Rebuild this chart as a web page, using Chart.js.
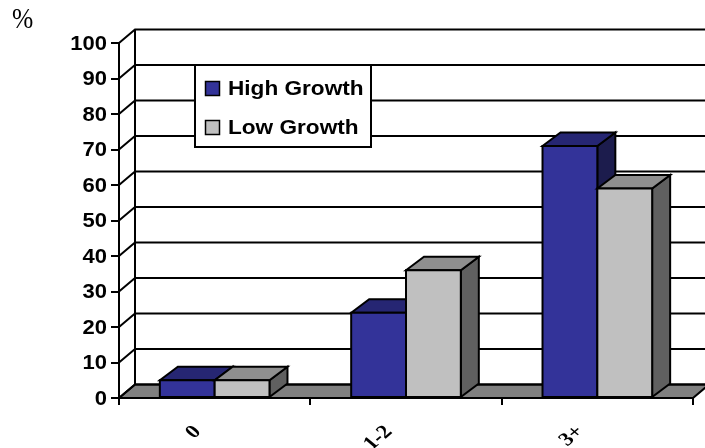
<!DOCTYPE html>
<html>
<head>
<meta charset="utf-8">
<script src="https://cdn.jsdelivr.net/npm/chart.js@4.4.0/dist/chart.umd.min.js"></script>
<style>
  html, body { margin: 0; padding: 0; background: #fff; }
  #wrap { position: relative; width: 705px; height: 448px; }
</style>
</head>
<body>
<div id="wrap"><canvas id="growthChart" width="705" height="448"></canvas></div>
<script>
// number of children groups and share of firms (%)
const categories = ['0', '1-2', '3+'];
const highGrowth = [5, 24, 71];
const lowGrowth = [5, 36, 59];
const seriesNames = ['High Growth', 'Low Growth'];

// depth offsets for the pseudo-3D wall/floor and for the bars
const WALL_DX = 16, BAR_DX = 18, DY = 13.5;

const shades = [
  { front: '#333399', top: '#262673', side: '#1c1c4d' },
  { front: '#c0c0c0', top: '#8f8f8f', side: '#606060' }
];

function poly(ctx, pts, fill) {
  ctx.beginPath();
  ctx.moveTo(pts[0][0], pts[0][1]);
  for (let i = 1; i < pts.length; i++) ctx.lineTo(pts[i][0], pts[i][1]);
  ctx.closePath();
  ctx.fillStyle = fill;
  ctx.fill();
  ctx.stroke();
}

// text drawn a little wider than the font's natural width
function wideText(ctx, txt, x, y, sx) {
  ctx.save();
  ctx.translate(x, y);
  ctx.scale(sx, 1);
  ctx.fillText(txt, 0, 0);
  ctx.restore();
}

const box3d = {
  id: 'box3d',
  beforeDatasetsDraw(chart) {
    const { ctx, chartArea: a, scales: { y } } = chart;
    ctx.save();
    ctx.strokeStyle = '#000';
    ctx.lineWidth = 2;
    // floor
    poly(ctx, [[a.left, a.bottom], [a.right, a.bottom], [a.right + WALL_DX, a.bottom - DY], [a.left + WALL_DX, a.bottom - DY]], '#808080');
    // back wall grid + side diagonals
    ctx.beginPath();
    y.ticks.forEach(t => {
      const py = y.getPixelForValue(t.value);
      ctx.moveTo(a.left, py);
      ctx.lineTo(a.left + WALL_DX, py - DY);
      ctx.lineTo(a.right + WALL_DX + 20, py - DY);
    });
    ctx.moveTo(a.left + WALL_DX, y.getPixelForValue(y.max) - DY);
    ctx.lineTo(a.left + WALL_DX, a.bottom - DY);
    ctx.stroke();
    ctx.restore();
  },
  afterDatasetsDraw(chart) {
    const { ctx } = chart;
    ctx.save();
    ctx.strokeStyle = '#000';
    ctx.lineWidth = 2;
    categories.forEach((c, i) => {
      chart.data.datasets.forEach((ds, d) => {
        const bar = chart.getDatasetMeta(d).data[i];
        const { x, y, base, width } = bar.getProps(['x', 'y', 'base', 'width'], true);
        const l = x - width / 2, r = x + width / 2;
        const col = shades[d];
        poly(ctx, [[r, y], [r + BAR_DX, y - DY], [r + BAR_DX, base - DY], [r, base]], col.side);
        poly(ctx, [[l, y], [l + BAR_DX, y - DY], [r + BAR_DX, y - DY], [r, y]], col.top);
        poly(ctx, [[l, y], [r, y], [r, base], [l, base]], col.front);
      });
    });
    ctx.restore();
  },
  afterDraw(chart) {
    const { ctx, scales: { x, y } } = chart;
    ctx.save();
    ctx.fillStyle = '#000';

    // value axis labels
    ctx.font = 'bold 20px "Liberation Sans", Arial, sans-serif';
    ctx.textAlign = 'right';
    ctx.textBaseline = 'middle';
    y.ticks.forEach(t => {
      wideText(ctx, String(t.value), 107, y.getPixelForValue(t.value) + 1, 1.1);
    });

    // rotated category labels
    ctx.font = 'bold 19px "Liberation Serif", "Times New Roman", serif';
    categories.forEach((c, i) => {
      const px = x.getPixelForValue(i);
      ctx.save();
      ctx.translate(px - 17, 429);
      ctx.scale(1.2, 1);
      ctx.rotate(-Math.PI / 4);
      ctx.fillText(c, 0, 0);
      ctx.restore();
    });

    // unit label
    ctx.font = '29px "Liberation Serif", "Times New Roman", serif';
    ctx.textAlign = 'left';
    ctx.textBaseline = 'alphabetic';
    wideText(ctx, '%', 12, 28, 0.88);

    // legend box
    ctx.fillStyle = '#fff';
    ctx.strokeStyle = '#000';
    ctx.lineWidth = 2;
    ctx.fillRect(195, 65, 176, 82);
    ctx.strokeRect(195, 65, 176, 82);
    ctx.font = 'bold 20px "Liberation Sans", Arial, sans-serif';
    ctx.textBaseline = 'middle';
    seriesNames.forEach((name, k) => {
      const cy = 88.5 + k * 39;
      ctx.fillStyle = shades[k].front;
      ctx.lineWidth = 1.5;
      ctx.fillRect(205.5, cy - 7, 14, 14);
      ctx.strokeRect(205.5, cy - 7, 14, 14);
      ctx.fillStyle = '#000';
      wideText(ctx, name, 228, cy + 1, 1.13);
    });
    ctx.restore();
  }
};

new Chart(document.getElementById('growthChart'), {
  type: 'bar',
  data: {
    labels: categories,
    datasets: [
      { label: seriesNames[0], data: highGrowth, backgroundColor: shades[0].front },
      { label: seriesNames[1], data: lowGrowth, backgroundColor: shades[1].front }
    ]
  },
  options: {
    responsive: false,
    animation: false,
    layout: { padding: { top: 43, right: 12, left: 0, bottom: 0 } },
    datasets: { bar: { categoryPercentage: 0.573, barPercentage: 1, borderWidth: 0 } },
    plugins: { legend: { display: false }, tooltip: { enabled: false } },
    scales: {
      x: {
        grid: { offset: true, drawOnChartArea: false, drawTicks: true, tickLength: 7, color: '#000', lineWidth: 2 },
        border: { display: true, color: '#000', width: 2, z: 1 },
        ticks: { display: false },
        afterFit(s) { s.height = 50; }
      },
      y: {
        min: 0, max: 100,
        grid: { drawOnChartArea: false, drawTicks: true, tickLength: 8, color: '#000', lineWidth: 2 },
        border: { display: true, color: '#000', width: 2, z: 1 },
        ticks: { display: false, stepSize: 10 },
        afterFit(s) { s.width = 119; }
      }
    }
  },
  plugins: [box3d]
});
</script>
</body>
</html>
